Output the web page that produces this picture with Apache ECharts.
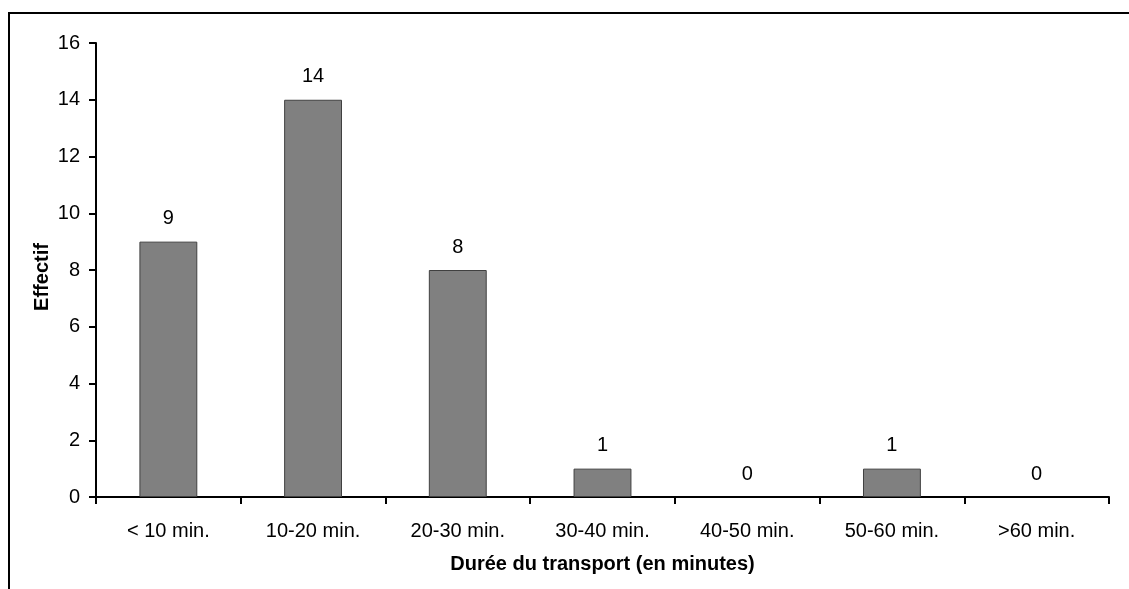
<!DOCTYPE html>
<html>
<head>
<meta charset="utf-8">
<script src="https://cdn.jsdelivr.net/npm/echarts@6/dist/echarts.min.js"></script>
<style>
  html, body { margin: 0; padding: 0; background: #fff; }
  #frame {
    position: absolute;
    left: 8px;
    top: 12px;
    width: 1125px;
    height: 580px;
    border-top: 2px solid #000;
    border-left: 2px solid #000;
  }
  #chart { width: 1129px; height: 589px; position: absolute; left: 0; top: 0; }
</style>
</head>
<body>
<div id="frame"></div>
<div id="chart"></div>
<script>
// catégories et effectifs
const categories = ['< 10 min.', '10-20 min.', '20-30 min.', '30-40 min.', '40-50 min.', '50-60 min.', '>60 min.']
const effectifs = [9, 14, 8, 1, 0, 1, 0]
const yTicks = [0, 2, 4, 6, 8, 10, 12, 14, 16]

const font = 'Arial, "Liberation Sans", sans-serif'

// pas de bordure pour les barres de hauteur nulle
const barData = effectifs.map(v => ({
  value: v,
  itemStyle: v === 0 ? { borderWidth: 0 } : undefined
}))

const chart = echarts.init(document.getElementById('chart'))
chart.setOption({
  animation: false,
  backgroundColor: 'transparent',
  grid: {
    left: 96,
    right: 20,
    top: 43,
    bottom: 92
  },
  xAxis: {
    type: 'category',
    data: categories,
    name: 'Durée du transport (en minutes)',
    nameLocation: 'middle',
    nameGap: 57,
    nameMoveOverlap: false,
    nameTextStyle: {
      color: '#000',
      fontFamily: font,
      fontSize: 20,
      fontWeight: 'bold'
    },
    axisLine: { lineStyle: { color: '#000', width: 2 } },
    axisTick: { show: true, inside: false, length: 7, lineStyle: { color: '#000', width: 2 } },
    axisLabel: {
      color: '#000',
      fontFamily: font,
      fontSize: 20,
      margin: 24
    },
    splitLine: { show: false }
  },
  yAxis: {
    type: 'value',
    min: yTicks[0],
    max: yTicks[yTicks.length - 1],
    interval: 2,
    name: 'Effectif',
    nameLocation: 'middle',
    nameGap: 44,
    nameMoveOverlap: false,
    nameTextStyle: {
      color: '#000',
      fontFamily: font,
      fontSize: 20,
      fontWeight: 'bold',
      padding: [0, 14, 0, 0]
    },
    axisLine: { show: true, lineStyle: { color: '#000', width: 2 } },
    axisTick: { show: true, length: 7, lineStyle: { color: '#000', width: 2 } },
    axisLabel: {
      color: '#000',
      fontFamily: font,
      fontSize: 20,
      margin: 16
    },
    splitLine: { show: false }
  },
  series: [
    {
      type: 'bar',
      data: barData,
      barWidth: '40%',
      itemStyle: {
        color: '#808080',
        borderColor: '#404040',
        borderWidth: 1
      },
      label: {
        show: true,
        position: 'top',
        distance: 13,
        color: '#000',
        fontFamily: font,
        fontSize: 20
      }
    }
  ]
})
</script>
</body>
</html>
